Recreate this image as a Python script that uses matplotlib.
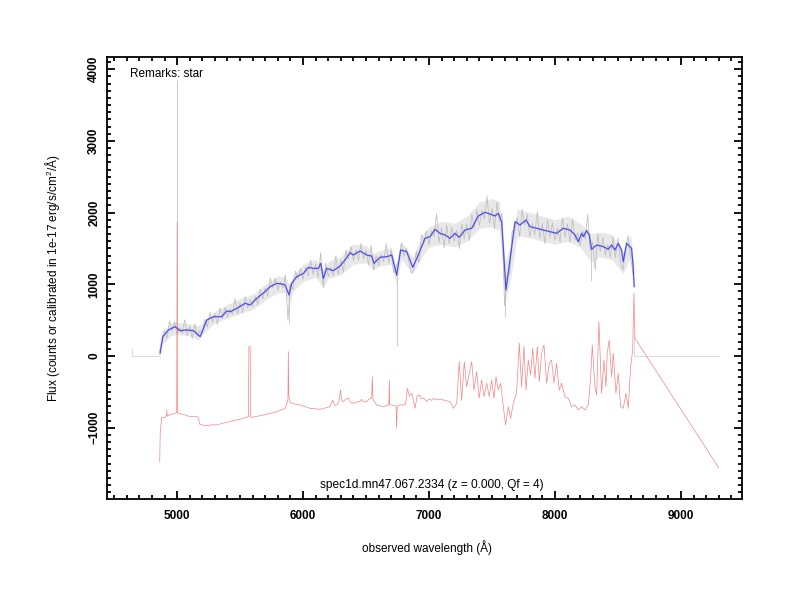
import numpy as np
import matplotlib
matplotlib.use("Agg")
import matplotlib.pyplot as plt
from matplotlib.ticker import MultipleLocator

plt.rcParams['font.family'] = ['Liberation Sans', 'DejaVu Sans']
plt.rcParams['mathtext.fontset'] = 'custom'
plt.rcParams['mathtext.rm'] = 'Liberation Sans'

# ---------------- data ----------------
# raw (noisy) flux, sampled every 20 A from 4860 to 8620
gray_start, gray_end = 4860, 8620
gray_flux = [
    60, 230, 358, 246, 490, 350, 477, 302, 392, 314,
    504, 285, 416, 243, 446, 272, 355, 316, 510, 404,
    608, 468, 593, 441, 670, 520, 682, 537, 652, 584,
    799, 585, 746, 603, 831, 672, 792, 686, 830, 714,
    928, 798, 948, 831, 1087, 950, 1082, 922, 1037, 944,
    1129, 500, 1006, 928, 1186, 1072, 1220, 1070, 1240, 1115,
    1340, 1132, 1282, 1092, 1440, 960, 1300, 1105, 1240, 1120,
    1395, 1140, 1335, 1170, 1475, 1350, 1530, 1330, 1480, 1335,
    1570, 1350, 1470, 1270, 1545, 1200, 1400, 1260, 1418, 1312,
    1565, 1295, 1475, 1160, 1250, 1340, 1578, 1390, 1505, 1320,
    1150, 1210, 1460, 1300, 1690, 1580, 1740, 1550, 1742, 1659,
    1984, 1585, 1791, 1508, 1826, 1567, 1800, 1601, 1755, 1499,
    1843, 1633, 1843, 1606, 1976, 1785, 2037, 1817, 2037, 1909,
    2229, 1852, 2061, 1773, 2141, 1872, 1990, 700, 1115, 1144,
    1743, 1743, 1928, 1661, 2045, 1825, 1977, 1662, 1847, 1694,
    2014, 1640, 1851, 1568, 1901, 1656, 1855, 1611, 1785, 1594,
    1923, 1658, 1843, 1588, 1915, 1623, 1717, 1537, 1742, 1629,
    1974, 1470, 1591, 1200, 1701, 1457, 1655, 1406, 1555, 1374,
    1663, 1373, 1643, 1321, 1200, 1465, 1677, 1372, 1150,
]
# envelope of the dense raw-flux scatter
band_wave = [4880, 4950, 5000, 5100, 5170, 5200, 5300, 5400, 5500, 5600,
             5700, 5800, 5860, 5890, 5920, 6000, 6100, 6160, 6200, 6300,
             6400, 6500, 6560, 6600, 6700, 6740, 6780, 6870, 6950, 7000,
             7100, 7200, 7300, 7400, 7500, 7560, 7605, 7650, 7700, 7800,
             7900, 8000, 8100, 8200, 8290, 8350, 8450, 8540, 8600, 8620]
band_upper = [330, 460, 470, 450, 420, 460, 620, 720, 800, 860,
              1000, 1120, 1100, 1000, 1130, 1280, 1350, 1200, 1320, 1390,
              1560, 1540, 1430, 1460, 1520, 1250, 1600, 1380, 1700, 1800,
              1880, 1850, 1950, 2150, 2200, 2150, 1300, 1550, 2050, 2000,
              1950, 1900, 1950, 1850, 1700, 1730, 1700, 1450, 1700, 1350]
band_lower = [150, 280, 300, 280, 220, 300, 460, 530, 590, 650,
              780, 880, 880, 700, 900, 1040, 1100, 950, 1080, 1130,
              1280, 1300, 1200, 1250, 1280, 1000, 1350, 1150, 1400, 1520,
              1560, 1520, 1600, 1780, 1800, 1750, 750, 1100, 1680, 1650,
              1600, 1560, 1600, 1520, 1300, 1380, 1350, 1150, 1380, 1100]
# isolated single-pixel spikes of the raw flux
gray_spike_wave = [5000, 5890, 6745, 7605, 8290]
gray_spike_low = [300, 460, 140, 540, 1050]
gray_spike_high = [3850, 1000, 1250, 1150, 1550]
# zero-valued padding outside the observed range
pad_left_wave = [4640, 4640, 4865]
pad_left_flux = [100, 0, 0]
pad_right_wave = [8630, 8630, 9300]
pad_right_flux = [300, 0, 0]

# smoothed flux
blue_wave = [4865, 4887, 4931, 4984, 5024, 5077, 5130, 5183, 5236, 5262,
             5288, 5354, 5394, 5421, 5474, 5540, 5579, 5633, 5698, 5738,
             5791, 5831, 5857, 5889, 5910, 5950, 6003, 6042, 6082, 6122,
             6140, 6161, 6188, 6241, 6294, 6333, 6373, 6399, 6452, 6506,
             6545, 6563, 6611, 6664, 6704, 6743, 6775, 6823, 6871, 6915,
             6968, 7008, 7048, 7087, 7127, 7167, 7206, 7240, 7286, 7339,
             7392, 7444, 7484, 7524, 7550, 7577, 7611, 7643, 7683, 7722,
             7770, 7802, 7855, 7907, 7960, 8013, 8066, 8119, 8159, 8185,
             8212, 8225, 8251, 8272, 8291, 8331, 8384, 8423, 8450, 8476,
             8503, 8529, 8542, 8569, 8595, 8608, 8621, 8629]
blue_flux = [37, 270, 363, 409, 353, 363, 353, 270, 502, 525,
             548, 548, 628, 618, 664, 735, 711, 804, 897, 967,
             1013, 1004, 990, 851, 1013, 1106, 1152, 1236, 1222, 1222,
             1292, 1083, 1222, 1190, 1255, 1339, 1441, 1408, 1464, 1408,
             1394, 1292, 1376, 1385, 1408, 1129, 1478, 1455, 1236, 1408,
             1641, 1664, 1767, 1711, 1688, 1641, 1711, 1655, 1757, 1781,
             1953, 2003, 1980, 1953, 1990, 1873, 920, 1339, 1873, 1827,
             1897, 1803, 1781, 1757, 1734, 1711, 1781, 1757, 1688, 1594,
             1711, 1664, 1748, 1688, 1488, 1548, 1525, 1488, 1548, 1478,
             1571, 1478, 1315, 1571, 1525, 1502, 1246, 967]

# offset error / sky curve
red_wave = [4862, 4866, 4878, 4905, 4915, 4918, 4921, 4950, 4984, 4997,
            5000, 5003, 5024, 5060, 5103, 5140, 5169, 5178, 5222, 5270,
            5315, 5370, 5421, 5480, 5526, 5566, 5570, 5580, 5584, 5593,
            5640, 5685, 5740, 5791, 5840, 5857, 5870, 5880, 5883, 5887,
            5895, 5910, 5976, 6056, 6135, 6214, 6235, 6250, 6267, 6285,
            6297, 6308, 6320, 6340, 6360, 6380, 6399, 6430, 6452, 6465,
            6480, 6505, 6525, 6545, 6550, 6555, 6584, 6637, 6677, 6682,
            6685, 6688, 6720, 6738, 6743, 6748, 6770, 6810, 6820, 6828,
            6845, 6863, 6889, 6905, 6923, 6940, 6960, 6982, 7000, 7021,
            7040, 7061, 7090, 7114, 7140, 7167, 7193, 7220, 7240, 7259,
            7280, 7299, 7320, 7339, 7357, 7378, 7398, 7418, 7437, 7458,
            7478, 7497, 7516, 7532, 7550, 7569, 7590, 7608, 7630, 7648,
            7669, 7695, 7717, 7735, 7754, 7770, 7788, 7807, 7823, 7841,
            7860, 7876, 7894, 7913, 7934, 7955, 7973, 7992, 8013, 8034,
            8053, 8079, 8106, 8132, 8159, 8185, 8212, 8238, 8265, 8284,
            8296, 8317, 8331, 8349, 8370, 8389, 8405, 8415, 8431, 8450,
            8463, 8484, 8503, 8521, 8542, 8564, 8582, 8601, 8617, 8627,
            8635, 9300]
red_flux = [-1474, -1078, -855, -855, -830, -753, -840, -815, -800, -790,
            1860, -795, -805, -820, -846, -840, -855, -948, -976, -960,
            -962, -935, -916, -890, -869, -846, 130, 130, -855, -855,
            -840, -823, -800, -776, -745, -730, -683, -600, 60, -560,
            -640, -660, -683, -730, -744, -707, -614, -690, -683, -640,
            -474, -620, -637, -600, -590, -650, -660, -640, -637, -604,
            -640, -637, -600, -590, -288, -600, -683, -707, -683, -640,
            -335, -680, -690, -700, -1008, -700, -683, -683, -600, -451,
            -560, -521, -730, -560, -544, -600, -590, -637, -600, -620,
            -590, -614, -600, -614, -625, -637, -730, -660, -79, -620,
            -79, -430, -242, -79, -474, -220, -590, -334, -567, -380,
            -567, -334, -590, -288, -474, -380, -707, -962, -707, -870,
            -660, -520, 177, -430, 130, -474, -56, -265, 107, -311,
            130, -357, 37, 153, -380, -102, -56, -380, -102, -474,
            -380, -567, -590, -707, -683, -753, -707, -753, -683, -288,
            153, -427, -544, 478, -520, -56, -427, 37, 223, -288,
            37, -520, -242, -707, -730, -520, -730, -149, 83, 880,
            247, -1558]

title_text = "spec1d.mn47.067.2334 (z = 0.000, Qf = 4)"
remark_text = "Remarks: star"

# ---------------- plot ----------------
fig = plt.figure(figsize=(8, 6), dpi=100)
ax = fig.add_axes([0.134, 0.1683, 0.7935, 0.7367])

gray_wave = np.linspace(gray_start, gray_end, len(gray_flux))
ax.plot(pad_left_wave, pad_left_flux, color='#dcdce4', lw=0.8)
ax.plot(pad_right_wave, pad_right_flux, color='#dcdce4', lw=0.8)
ax.fill_between(band_wave, band_lower, band_upper, color='#e8e8e8',
                lw=0)
ax.vlines(gray_spike_wave, gray_spike_low, gray_spike_high,
          color='#cccccc', lw=0.7)
ax.plot(gray_wave, gray_flux, color='#bdbdbd', lw=0.55)
ax.plot(red_wave, red_flux, color='#f48484', lw=0.5)
ax.plot(blue_wave, blue_flux, color='#9090f0', lw=1.5, alpha=0.35)
ax.plot(blue_wave, blue_flux, color='#4646e4', lw=0.75)

ax.set_xlim(4445, 9485)
ax.set_ylim(-1995, 4170)

ax.xaxis.set_major_locator(MultipleLocator(1000))
ax.xaxis.set_minor_locator(MultipleLocator(100))
ax.yaxis.set_major_locator(MultipleLocator(1000))
ax.yaxis.set_minor_locator(MultipleLocator(100))
ax.tick_params(which='both', direction='in', top=True, right=True,
               width=1.3, color='black')
ax.tick_params(which='major', length=5.5)
ax.tick_params(which='minor', length=3)
ax.tick_params(axis='x', which='major', pad=8, labelsize=8.5)
ax.tick_params(axis='y', which='major', pad=5, labelsize=8.5)
for lab in ax.get_xticklabels() + ax.get_yticklabels():
    lab.set_fontweight('bold')
for lab in ax.get_yticklabels():
    lab.set_rotation(90)
    lab.set_va('center')
for sp in ax.spines.values():
    sp.set_linewidth(1.3)

ax.set_xlabel("observed wavelength (Å)", fontsize=8.5)
ax.set_ylabel(r"Flux (counts or calibrated in 1e-17 erg/s/cm$^2$/Å)",
              fontsize=8.5)
ax.xaxis.set_label_coords(0.503, -0.093)
ax.yaxis.set_label_coords(-0.071, 0.5)

ax.text(0.512, 0.032, title_text, transform=ax.transAxes,
        ha='center', va='center', fontsize=8.6)
ax.text(0.036, 0.962, remark_text, transform=ax.transAxes,
        ha='left', va='center', fontsize=8.5)

fig.savefig("out.png", dpi=100)
